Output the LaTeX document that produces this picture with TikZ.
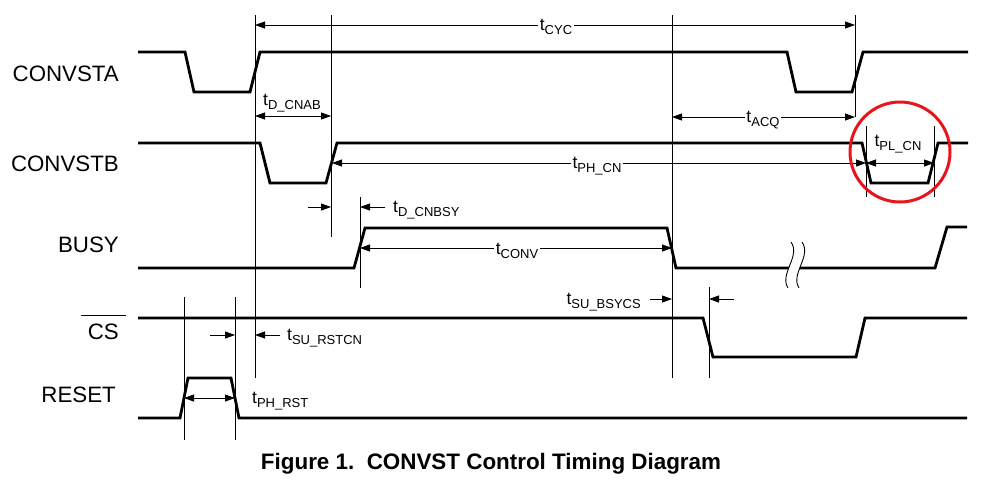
\documentclass[tikz,border=0pt]{standalone}
\usepackage{fontspec}
\setmainfont{Liberation Sans}
\usetikzlibrary{arrows.meta}
\newcommand{\tlab}[1]{{\fontsize{17.5}{17.5}\selectfont t}\raisebox{-4pt}{\fontsize{13}{13}\selectfont #1}}
\begin{document}
\begin{tikzpicture}[x=1pt,y=-1pt,
  sig/.style={line width=2.8pt, line join=miter},
  guide/.style={line width=0.8pt},
  dimboth/.style={line width=0.8pt, {Triangle[length=10pt,width=7pt]}-{Triangle[length=10pt,width=7pt]}},
  dimone/.style={line width=0.8pt, -{Triangle[length=10pt,width=7pt]}},
  signame/.style={anchor=base east, inner sep=0pt, font=\fontsize{22.3}{22.3}\selectfont},
  tl/.style={inner sep=0pt},
  tlbreak/.style={fill=white, inner sep=1.5pt},
]
\useasboundingbox (0,0) rectangle (987,488);

% signal names
\node[signame] (nA) at (119,81) {CONVSTA};
\node[signame] (nB) at (119,171) {CONVSTB};
\node[signame] (nBusy) at (119,252) {BUSY};
\node[signame] (nCS) at (119,339) {CS};
\draw[line width=1.3pt] ([xshift=-7pt,yshift=8pt]nCS.north west) -- ([xshift=7pt,yshift=8pt]nCS.north east);
\node[signame] (nRst) at (116,402) {RESET};

% guide lines
\draw[guide] (184,297) -- (184,440);
\draw[guide] (235,297) -- (235,440);
\draw[guide] (255,15) -- (255,378);
\draw[guide] (331,15) -- (331,237);
\draw[guide] (360,197) -- (360,288);
\draw[guide] (672,15) -- (672,378);
\draw[guide] (709,287) -- (709,378);
\draw[guide] (855,15) -- (855,117);
\draw[guide] (866,126) -- (866,197);
\draw[guide] (934,126) -- (934,197);

% signals
\draw[sig] (138,52) -- (185,52) -- (194,92) -- (250,92) -- (260,52) -- (787,52) -- (796,92) -- (852,92) -- (863,52) -- (968,52);
\draw[sig] (138,143) -- (260,143) -- (270,183) -- (326,183) -- (337,143) -- (862,143) -- (871,183) -- (928,183) -- (938,143) -- (968,143);
\draw[sig] (138,268) -- (354,268) -- (365,228) -- (667,228) -- (676,268) -- (935,268) -- (947,227) -- (967,227);
\draw[sig] (138,318) -- (703,318) -- (713,357) -- (856,357) -- (865,318) -- (967,318);
\draw[sig] (138,418) -- (180,418) -- (188,378) -- (231,378) -- (239,418) -- (967,418);

% break on BUSY
\fill[white] (791,242) .. controls (801,256) and (779,274) .. (788,288) -- (799,288) .. controls (790,274) and (812,256) .. (802,242) -- cycle;
\draw[line width=0.9pt] (791,242) .. controls (801,256) and (779,274) .. (788,288);
\draw[line width=0.9pt] (802,242) .. controls (812,256) and (790,274) .. (799,288);

% dimension arrows
\draw[dimboth] (255,25) -- (855,25);
\node[tlbreak] (lCYC) at (556,27) {\tlab{CYC}};
\draw[dimboth] (255,116) -- (331,116);
\node[tl] (lDCNAB) at (292,103) {\tlab{D\_CNAB}};
\draw[dimboth] (672,117) -- (855,117);
\node[tlbreak] (lACQ) at (763,120) {\tlab{ACQ}};
\draw[dimboth] (332,163) -- (866,163);
\node[tlbreak] (lPHCN) at (597,166) {\tlab{PH\_CN}};
\draw[dimboth] (866,163) -- (934,163);
\node[tl] (lPLCN) at (898,144) {\tlab{PL\_CN}};
\draw[dimone] (308,207) -- (331,207);
\draw[dimone] (385,207) -- (360,207);
\node[tl, anchor=west] (lDCNBSY) at (393,210) {\tlab{D\_CNBSY}};
\draw[dimboth] (360,248) -- (672,248);
\node[tlbreak] (lCONV) at (517,251) {\tlab{CONV}};
\draw[dimone] (650,299) -- (672,299);
\draw[dimone] (734,299) -- (709,299);
\node[tl, anchor=east] (lSUBSYCS) at (641,302) {\tlab{SU\_BSYCS}};
\draw[dimone] (210,335) -- (235,335);
\draw[dimone] (280,335) -- (255,335);
\node[tl, anchor=west] (lSURSTCN) at (287,338) {\tlab{SU\_RSTCN}};
\draw[dimboth] (184,398) -- (235,398);
\node[tl, anchor=west] (lPHRST) at (252,401) {\tlab{PH\_RST}};

% red circle highlight
\draw[line width=3pt, color={rgb,255:red,232;green,20;blue,27}] (900,152) circle (50);

% caption
\node[anchor=base, inner sep=0pt, font=\bfseries\fontsize{22.4}{22.4}\selectfont] (cap) at (491,469) {Figure 1.~~CONVST Control Timing Diagram};
\end{tikzpicture}
\end{document}
